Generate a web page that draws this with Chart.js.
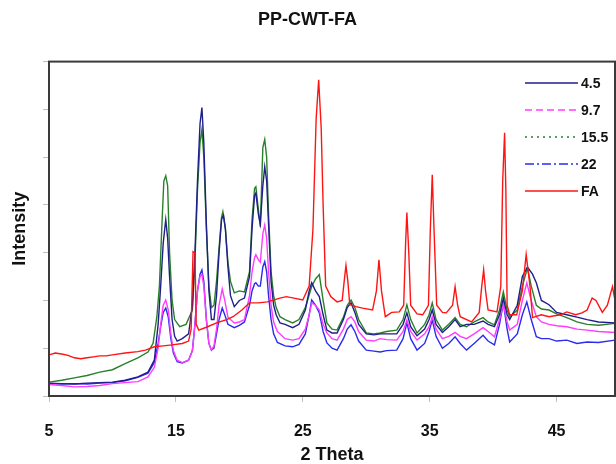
<!DOCTYPE html>
<html lang="en">
<head>
    <meta charset="UTF-8">
    <title>PP-CWT-FA</title>
    <script src="https://cdn.jsdelivr.net/npm/chart.js"></script>
    <style>
        html, body { margin: 0; padding: 0; background: #ffffff; }
        #grafico { display: block; }
    </style>
</head>
<body>
    <canvas id="grafico" width="616" height="464"></canvas>

<script>
    var xTicks = [5, 15, 25, 35, 45];
    var serieNomes = ['4.5', '9.7', '15.5', '22', 'FA'];

    var theta45 = [5, 6, 7, 8, 9, 10, 11, 12, 12.8, 13.3,
        13.6, 13.8, 14.0, 14.2, 14.35, 14.5, 14.7, 14.9, 15.1, 15.5,
        16.0, 16.3, 16.5, 16.7, 16.9, 17.05, 17.2, 17.4, 17.6, 17.8,
        18.0, 18.2, 18.4, 18.6, 18.75, 18.9, 19.1, 19.3, 19.6, 20.0,
        20.4, 20.8, 21.0, 21.2, 21.3, 21.5, 21.65, 21.85, 22.0, 22.15,
        22.3, 22.5, 22.7, 22.9, 23.2, 23.6, 24.2, 24.7, 25.2, 25.5,
        25.7, 26.0, 26.3, 26.6, 26.9, 27.3, 27.7, 28.2, 28.5, 28.8,
        29.1, 29.4, 30.0, 30.6, 31.1, 31.6, 32.4, 32.9, 33.2, 33.5,
        34.0, 34.6, 34.95, 35.2, 35.5, 36.0, 36.5, 37.0, 37.4, 37.9,
        38.5, 39.2, 39.6, 40.1, 40.5, 40.8, 41.1, 41.3, 41.9, 42.3,
        42.7, 43.1, 43.4, 43.8, 44.4, 45.0, 45.8, 46.6, 47.4, 48.3,
        49.6];
    var int45 = [0.27, 0.26, 0.25, 0.27, 0.28, 0.29, 0.33, 0.40, 0.50, 0.75,
        1.5, 2.3, 3.2, 3.69, 3.3, 2.5, 1.6, 1.25, 1.15, 1.2,
        1.3, 1.9, 3.0, 4.5, 5.7, 6.04, 5.3, 3.6, 2.2, 1.6,
        1.6, 2.1, 3.0, 3.7, 3.78, 3.5, 2.7, 2.1, 1.87, 2.0,
        2.05, 2.5, 3.5, 4.2, 4.25, 3.8, 3.6, 4.4, 4.8, 4.5,
        3.6, 2.4, 1.9, 1.7, 1.53, 1.5, 1.43, 1.5, 1.8, 2.2,
        2.37, 2.2, 2.08, 1.7, 1.38, 1.32, 1.32, 1.6, 1.85, 1.95,
        1.75, 1.5, 1.3, 1.28, 1.3, 1.3, 1.3, 1.5, 1.74, 1.45,
        1.26, 1.4, 1.6, 1.8, 1.5, 1.33, 1.45, 1.6, 1.45, 1.5,
        1.5, 1.57, 1.5, 1.45, 1.7, 2.05, 1.7, 1.6, 1.9, 2.5,
        2.7, 2.55, 2.37, 2.0, 1.91, 1.75, 1.7, 1.65, 1.6, 1.55,
        1.53];

    var theta97e22 = [5, 6, 7, 8, 9, 10, 11, 12, 12.8, 13.3,
        13.6, 13.8, 14.0, 14.2, 14.4, 14.6, 14.8, 15.1, 15.5, 16.0,
        16.3, 16.5, 16.7, 16.9, 17.05, 17.2, 17.4, 17.6, 17.8, 18.0,
        18.2, 18.4, 18.65, 18.85, 19.1, 19.6, 20.0, 20.4, 20.8, 21.0,
        21.2, 21.3, 21.5, 21.65, 21.85, 22.0, 22.15, 22.3, 22.5, 22.7,
        23.0, 23.6, 24.2, 24.7, 25.2, 25.5, 25.7, 26.0, 26.3, 26.6,
        26.9, 27.3, 27.7, 28.2, 28.5, 28.8, 29.1, 29.4, 30.0, 30.6,
        31.1, 31.6, 32.4, 32.9, 33.2, 33.5, 34.0, 34.6, 34.95, 35.2,
        35.5, 36.0, 36.5, 37.0, 37.4, 37.9, 38.5, 39.2, 39.6, 40.1,
        40.5, 40.8, 41.1, 41.3, 41.9, 42.3, 42.65, 43.0, 43.4, 43.8,
        44.4, 45.0, 45.8, 46.6, 47.4, 48.3, 49.6];
    var int97 = [0.24, 0.22, 0.19, 0.2, 0.22, 0.26, 0.28, 0.30, 0.40, 0.6,
        1.0, 1.5, 1.9, 2.01, 1.8, 1.3, 0.95, 0.75, 0.7, 0.75,
        0.95, 1.5, 2.2, 2.5, 2.55, 2.3, 1.6, 1.1, 0.96, 1.05,
        1.4, 1.9, 2.24, 2.0, 1.65, 1.53, 1.55, 1.6, 2.1, 2.6,
        2.9, 2.96, 2.85, 2.8, 3.4, 3.58, 3.3, 2.6, 1.9, 1.55,
        1.35, 1.2, 1.17, 1.2, 1.4, 1.7, 1.95, 1.9, 1.8, 1.5,
        1.32, 1.2, 1.17, 1.4, 1.6, 1.66, 1.55, 1.35, 1.17, 1.15,
        1.2, 1.18, 1.17, 1.35, 1.59, 1.35, 1.17, 1.3, 1.45, 1.66,
        1.4, 1.2, 1.25, 1.33, 1.25, 1.2, 1.3, 1.43, 1.35, 1.24,
        1.6, 1.93, 1.55, 1.38, 1.5, 2.0, 2.37, 2.0, 1.66, 1.55,
        1.5, 1.47, 1.45, 1.4, 1.38, 1.35, 1.33];
    var int22 = [0.26, 0.25, 0.26, 0.25, 0.27, 0.28, 0.32, 0.39, 0.48, 0.7,
        1.1, 1.45, 1.75, 1.84, 1.65, 1.2, 0.9, 0.72, 0.69, 0.75,
        0.95, 1.5, 2.2, 2.55, 2.64, 2.4, 1.6, 1.1, 0.96, 1.0,
        1.3, 1.6, 1.84, 1.7, 1.5, 1.43, 1.48, 1.55, 1.9, 2.2,
        2.35, 2.37, 2.3, 2.3, 2.7, 2.81, 2.6, 2.1, 1.6, 1.3,
        1.12, 1.05, 1.03, 1.08, 1.3, 1.7, 2.01, 1.9, 1.74, 1.35,
        1.11, 1.0, 0.96, 1.2, 1.4, 1.49, 1.35, 1.15, 0.96, 0.94,
        0.92, 0.95, 0.96, 1.2, 1.53, 1.2, 0.96, 1.1, 1.35, 1.59,
        1.25, 1.0, 1.1, 1.24, 1.1, 0.96, 1.1, 1.27, 1.15, 1.07,
        1.5, 1.95, 1.4, 1.13, 1.3, 1.7, 1.97, 1.6, 1.24, 1.2,
        1.2, 1.15, 1.17, 1.1, 1.13, 1.12, 1.17];

    var theta155 = [5, 6, 7, 8, 9, 10, 11, 12, 12.8, 13.2,
        13.5, 13.7, 13.9, 14.05, 14.2, 14.35, 14.5, 14.7, 14.9, 15.3,
        15.8, 16.3, 16.5, 16.7, 16.9, 17.05, 17.2, 17.4, 17.6, 17.8,
        18.0, 18.2, 18.4, 18.6, 18.7, 18.9, 19.1, 19.3, 19.6, 20.0,
        20.4, 20.8, 21.0, 21.2, 21.3, 21.5, 21.65, 21.85, 22.0, 22.15,
        22.3, 22.5, 22.7, 22.9, 23.2, 23.6, 24.2, 24.7, 25.2, 25.7,
        26.0, 26.3, 26.6, 26.9, 27.3, 27.7, 28.2, 28.5, 28.8, 29.1,
        29.4, 30.0, 30.6, 31.1, 31.6, 32.4, 32.9, 33.2, 33.5, 34.0,
        34.6, 34.95, 35.2, 35.5, 36.0, 36.5, 37.0, 37.4, 37.9, 38.5,
        39.2, 39.6, 40.1, 40.5, 40.8, 41.1, 41.3, 41.9, 42.3, 42.7,
        43.0, 43.4, 43.8, 44.4, 45.0, 45.8, 46.6, 47.4, 48.3, 49.6];
    var int155 = [0.29, 0.33, 0.38, 0.43, 0.50, 0.55, 0.68, 0.80, 0.92, 1.1,
        1.66, 2.3, 3.6, 4.5, 4.61, 4.4, 3.0, 2.0, 1.6, 1.45,
        1.5, 1.8, 2.8, 4.3, 5.3, 5.58, 5.0, 3.5, 2.3, 1.85,
        1.9, 2.4, 3.1, 3.75, 3.86, 3.5, 2.8, 2.4, 2.16, 2.2,
        2.18, 2.6, 3.7, 4.35, 4.38, 3.9, 3.54, 5.2, 5.37, 5.0,
        3.8, 2.6, 2.1, 1.85, 1.66, 1.6, 1.53, 1.6, 1.85, 2.29,
        2.45, 2.54, 2.0, 1.53, 1.4, 1.38, 1.65, 1.9, 2.01, 1.85,
        1.6, 1.32, 1.3, 1.32, 1.35, 1.38, 1.6, 1.91, 1.6, 1.32,
        1.5, 1.7, 1.95, 1.6, 1.38, 1.5, 1.64, 1.5, 1.45, 1.55,
        1.64, 1.55, 1.49, 1.8, 2.18, 1.8, 1.66, 1.8, 2.3, 2.68,
        2.3, 1.9, 1.82, 1.8, 1.72, 1.64, 1.55, 1.5, 1.48, 1.52];

    var thetaFA = [5, 5.5, 6, 6.5, 7, 7.5, 8, 8.5, 9, 9.5,
        10, 11, 12, 12.6, 13.3, 14, 14.7, 15.5, 16.0, 16.2,
        16.35, 16.5, 16.6, 16.8, 17.5, 18.2, 19.0, 19.5, 20.2, 20.8,
        21.5, 22.2, 23.2, 23.7, 24.3, 25.0, 25.5, 25.8, 26.05, 26.25,
        26.45, 26.6, 26.8, 27.2, 27.7, 28.1, 28.3, 28.4, 28.55, 28.7,
        29.2, 29.7, 30.5, 30.8, 31.0, 31.2, 31.5, 32.0, 32.6, 32.95,
        33.1, 33.2, 33.35, 33.5, 34.0, 34.45, 34.9, 35.05, 35.2, 35.35,
        35.55, 36.0, 36.3, 36.8, 37.0, 37.2, 37.4, 38.3, 38.9, 39.1,
        39.25, 39.4, 39.6, 40.3, 40.6, 40.75, 40.9, 41.0, 41.1, 41.3,
        41.85, 42.3, 42.6, 42.9, 43.1, 43.8, 44.4, 45.3, 45.8, 46.5,
        47.0, 47.4, 47.8, 48.1, 48.6, 49.0, 49.4, 49.6];
    var intFA = [0.86, 0.9, 0.88, 0.85, 0.8, 0.78, 0.8, 0.82, 0.84, 0.84,
        0.86, 0.9, 0.93, 0.96, 1.03, 1.05, 1.07, 1.1, 1.15, 1.4,
        3.02, 3.0, 1.5, 1.38, 1.45, 1.53, 1.6, 1.66, 1.8, 1.95,
        1.95, 1.97, 2.05, 2.08, 2.05, 2.01, 2.3, 3.5, 5.8, 6.62,
        5.6, 4.0, 2.3, 2.08, 1.97, 2.0, 2.5, 2.73, 2.4, 1.91,
        1.87, 1.84, 1.8, 2.2, 2.85, 2.2, 1.66, 1.75, 1.76, 1.9,
        3.2, 3.84, 3.0, 1.9, 1.72, 1.70, 1.9, 3.5, 4.63, 3.4,
        1.9, 1.75, 1.74, 1.9, 2.29, 1.9, 1.66, 1.55, 1.75, 2.3,
        2.64, 2.2, 1.8, 1.76, 2.3, 4.5, 5.51, 4.3, 1.9, 1.70,
        1.70, 2.2, 2.96, 2.3, 1.64, 1.7, 1.66, 1.7, 1.76, 1.7,
        1.74, 1.8, 2.05, 2.0, 1.75, 1.9, 2.29, 2.0];

    var cores = ['#1f1f8c', '#ff3cff', '#2a802a', '#2b2bf0', '#ff1414'];
    var tracos = [[], [7, 4], [2, 4], [9, 3, 2, 3], []];

    function pontos(xs, ys) {
        return xs.map(function (x, i) { return { x: x, y: ys[i] }; });
    }

    var series = [
        pontos(theta45, int45),
        pontos(theta97e22, int97),
        pontos(theta155, int155),
        pontos(theta97e22, int22),
        pontos(thetaFA, intFA)
    ];
    // ordem de desenho: FA por cima
    var ordem = [2, 4, 3, 5, 1];

    var datasets = series.map(function (d, i) {
        return {
            label: serieNomes[i],
            data: d,
            borderColor: cores[i],
            borderWidth: 1.4,
            pointRadius: 0,
            showLine: true,
            fill: false,
            tension: 0,
            order: ordem[i]
        };
    });

    // moldura e legenda dentro da area do grafico
    var molduraLegenda = {
        id: 'molduraLegenda',
        afterDraw: function (chart) {
            var ctx = chart.ctx;
            var a = chart.chartArea;
            ctx.save();
            ctx.strokeStyle = '#3a3a3a';
            ctx.lineWidth = 2;
            ctx.strokeRect(a.left, a.top, a.right - a.left, a.bottom - a.top);

            var x0 = 525, x1 = 578, y0 = 83, dy = 27;
            ctx.font = 'bold 14px "Liberation Sans", Arial, sans-serif';
            ctx.textBaseline = 'middle';
            ctx.textAlign = 'left';
            serieNomes.forEach(function (nome, i) {
                var y = y0 + i * dy;
                ctx.beginPath();
                ctx.setLineDash(tracos[i]);
                ctx.strokeStyle = cores[i];
                ctx.lineWidth = 1.6;
                ctx.moveTo(x0, y);
                ctx.lineTo(x1, y);
                ctx.stroke();
                ctx.setLineDash([]);
                ctx.fillStyle = '#111111';
                ctx.fillText(nome, x1 + 3, y + 1);
            });
            ctx.restore();
        }
    };

    var ctx = document.getElementById('grafico').getContext('2d');
    new Chart(ctx, {
        type: 'scatter',
        data: { datasets: datasets },
        options: {
            responsive: false,
            animation: false,
            layout: { padding: { left: 0, right: 1, top: 0, bottom: 0 } },
            scales: {
                x: {
                    type: 'linear',
                    min: 5,
                    max: 49.6,
                    afterBuildTicks: function (scale) {
                        scale.ticks = xTicks.map(function (v) { return { value: v }; });
                    },
                    afterFit: function (scale) { scale.height = 68; },
                    ticks: {
                        color: '#111111',
                        padding: 20,
                        maxRotation: 0,
                        font: { family: '"Liberation Sans", Arial, sans-serif', size: 16, weight: 'bold' }
                    },
                    grid: { drawOnChartArea: false, tickLength: 6, color: '#c0c0c0' },
                    border: { display: false },
                    title: {
                        display: true,
                        text: '2 Theta',
                        color: '#111111',
                        padding: { top: 0, bottom: 0 },
                        font: { family: '"Liberation Sans", Arial, sans-serif', size: 18, weight: 'bold', lineHeight: 1 }
                    }
                },
                y: {
                    min: 0,
                    max: 7,
                    ticks: { stepSize: 1, display: false },
                    afterFit: function (scale) { scale.width = 49; },
                    grid: { drawOnChartArea: false, tickLength: 6, color: '#c0c0c0' },
                    border: { display: false },
                    title: {
                        display: true,
                        text: 'Intensity',
                        color: '#111111',
                        padding: { top: 9, bottom: 0 },
                        font: { family: '"Liberation Sans", Arial, sans-serif', size: 18, weight: 'bold' }
                    }
                }
            },
            plugins: {
                legend: { display: false },
                tooltip: { enabled: false },
                title: {
                    display: true,
                    text: 'PP-CWT-FA',
                    color: '#111111',
                    padding: { top: 9, bottom: 31 },
                    font: { family: '"Liberation Sans", Arial, sans-serif', size: 18, weight: 'bold' }
                }
            }
        },
        plugins: [molduraLegenda]
    });
</script>
</body>
</html>
